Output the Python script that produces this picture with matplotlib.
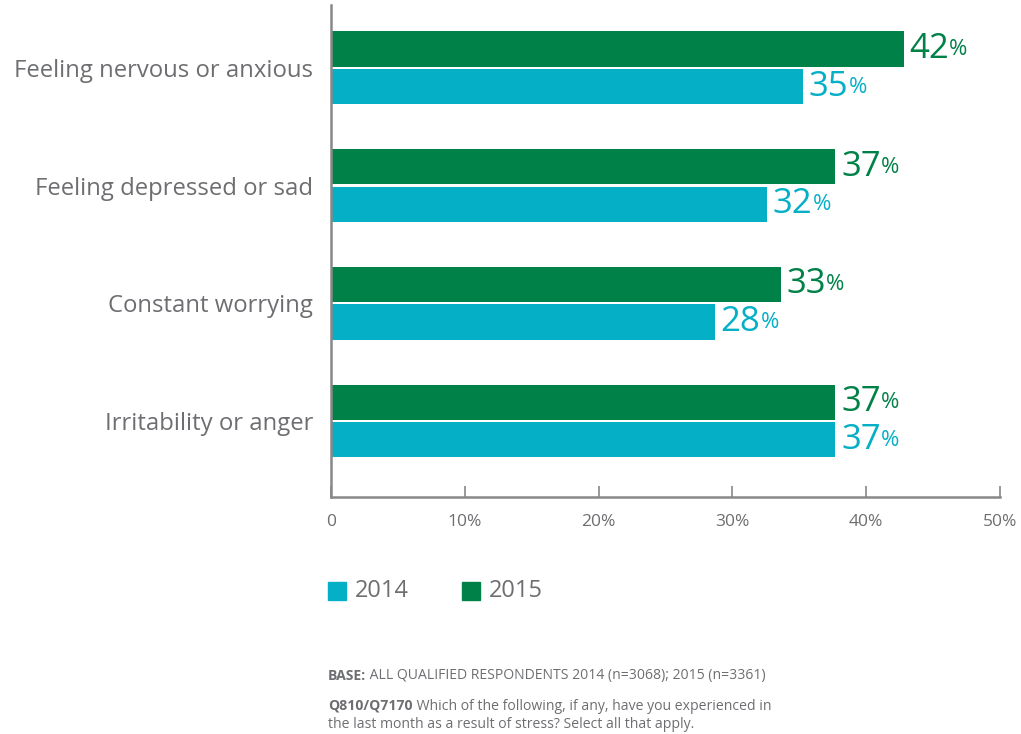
import matplotlib
matplotlib.use("Agg")
import matplotlib.pyplot as plt
from matplotlib.patches import Rectangle

categories = ["Feeling nervous or anxious", "Feeling depressed or sad",
              "Constant worrying", "Irritability or anger"]
values_2015 = [42.8, 37.7, 33.6, 37.7]
values_2014 = [35.3, 32.6, 28.7, 37.7]
labels_2015 = [42, 37, 33, 37]
labels_2014 = [35, 32, 28, 37]
xticks = [0, 10, 20, 30, 40, 50]
xtick_labels = ["0", "10%", "20%", "30%", "40%", "50%"]
series_names = ["2014", "2015"]

C14 = "#05AFC6"
C15 = "#008148"
GREY = "#6d6e71"
FONT = ["Open Sans", "DejaVu Sans"]
plt.rcParams["font.family"] = FONT

fig = plt.figure(figsize=(10.21, 7.34), dpi=100)
ax = fig.add_axes([331/1021, 1-497/734, (1000-331)/1021, (497-5)/734])
ax.set_xlim(0, 50)
ax.set_ylim(3.646, -0.535)

h = 0.3
off = 0.16
for i, (v15, v14) in enumerate(zip(values_2015, values_2014)):
    ax.barh(i - off, v15, height=h, color=C15, edgecolor="none")
    ax.barh(i + off, v14, height=h, color=C14, edgecolor="none")

def vlabel(x, y, n, color):
    t = ax.annotate(f"{n}", xy=(x, y), xytext=(4, 0), textcoords="offset points",
                    ha="left", va="center", fontsize=25, color=color)
    ax.annotate("%", xy=(1.0, 0.8), xycoords=t, xytext=(0.2, 0), textcoords="offset points",
                ha="left", va="top", fontsize=16, color=color)

for i in range(len(categories)):
    vlabel(values_2015[i], i - off, labels_2015[i], C15)
    vlabel(values_2014[i], i + off, labels_2014[i], C14)

ax.set_yticks(range(len(categories)))
ax.set_yticklabels(categories, fontsize=17.2, color=GREY)
ax.tick_params(axis="y", length=0, pad=13)
ax.set_xticks(xticks)
ax.set_xticklabels(xtick_labels, fontsize=12.5, color=GREY)
ax.tick_params(axis="x", direction="in", length=8, width=1.2, color="#888888", pad=12)
for s in ["top", "right"]:
    ax.spines[s].set_visible(False)
for s in ["left", "bottom"]:
    ax.spines[s].set_color("#888888")
    ax.spines[s].set_linewidth(1.8)

W, H = 1021, 734
def fx(px): return px / W
def fy(py): return 1 - py / H

# legend
for (x0, name, col) in [(328, series_names[0], C14), (462, series_names[1], C15)]:
    fig.patches.append(Rectangle((fx(x0), fy(600)), 18/W, 18/H, transform=fig.transFigure,
                                 color=col, zorder=5))
    fig.text(fx(x0 + 27), fy(591), name, fontsize=17, color=GREY, va="center", ha="left")

# footer
FS = 10.1
t = fig.text(fx(328), fy(676), "BASE:", fontsize=FS, fontweight="bold", color=GREY, va="center")
ax.annotate(" ALL QUALIFIED RESPONDENTS 2014 (n=3068); 2015 (n=3361)", xy=(1, 0.5), xycoords=t,
            fontsize=FS, color=GREY, va="center", ha="left", annotation_clip=False)
t2 = fig.text(fx(328), fy(706), "Q810/Q7170", fontsize=FS, fontweight="bold", color=GREY, va="center")
ax.annotate(" Which of the following, if any, have you experienced in", xy=(1, 0.5), xycoords=t2,
            fontsize=FS, color=GREY, va="center", ha="left", annotation_clip=False)
fig.text(fx(328), fy(724), "the last month as a result of stress? Select all that apply.",
         fontsize=FS, color=GREY, va="center")

fig.savefig("out.png", dpi=100)
